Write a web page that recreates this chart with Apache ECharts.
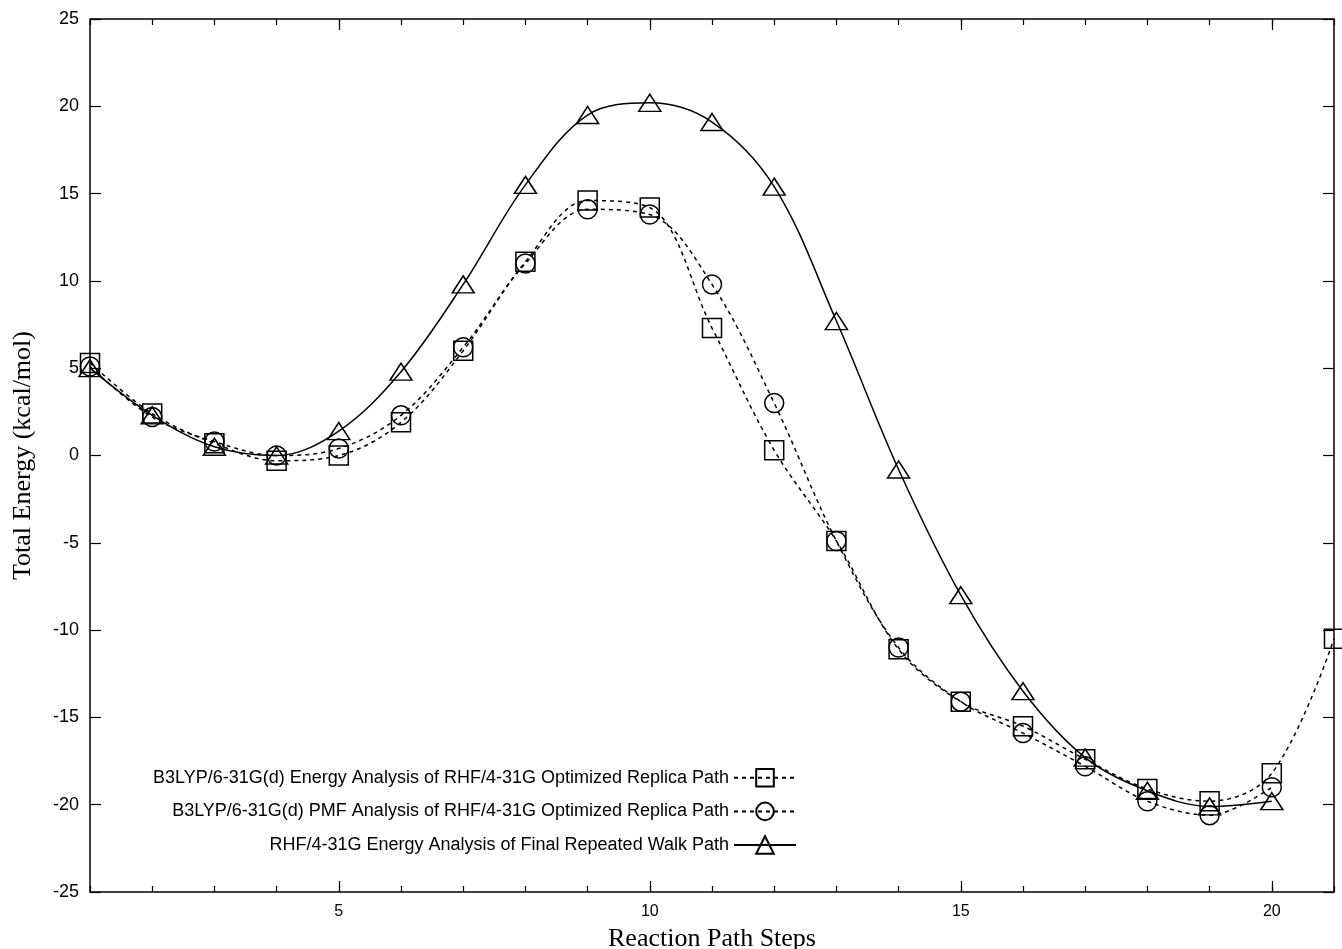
<!DOCTYPE html>
<html><head><meta charset="utf-8">
<script src="https://cdn.jsdelivr.net/npm/echarts@6/dist/echarts.min.js"></script>
<style>html,body{margin:0;padding:0;background:#fff}#c{width:1342px;height:949px}</style>
</head><body><div id="c"></div>
<script>
const steps = [1,2,3,4,5,6,7,8,9,10,11,12,13,14,15,16,17,18,19,20,21];
const energyB3LYP = [5.3,2.4,0.7,-0.3,0.0,1.9,6.0,11.1,14.6,14.2,7.3,0.3,-4.9,-11.1,-14.1,-15.5,-17.4,-19.1,-19.8,-18.2,-10.5];
const pmfB3LYP = [5.1,2.2,0.8,0.0,0.4,2.3,6.2,11.0,14.1,13.8,9.8,3.0,-4.9,-11.0,-14.1,-15.9,-17.8,-19.8,-20.6,-19.0];
const rhfWalk = [5.0,2.3,0.5,0.0,1.4,4.8,9.8,15.5,19.5,20.2,19.1,15.4,7.7,-0.8,-8.0,-13.5,-17.3,-19.2,-20.1,-19.8];
const seriesNames = [
  'B3LYP/6-31G(d) Energy Analysis of RHF/4-31G Optimized Replica Path',
  'B3LYP/6-31G(d) PMF Analysis of RHF/4-31G Optimized Replica Path',
  'RHF/4-31G Energy Analysis of Final Repeated Walk Path'
];
const xMajor = [5,10,15,20];
const xLabelText = ['5','10','15','20'];
const yTicks = [-25,-20,-15,-10,-5,0,5,10,15,20,25];

const pairs = arr => arr.map((v,i)=>[steps[i], v]);
const sans = '"Liberation Sans", Arial, sans-serif';
const serif = '"Liberation Serif", "Times New Roman", serif';
const black = '#000';

function xAx(pos, opts) {
  return Object.assign({
    type:'value', position:pos, min:1, max:21, gridIndex:0,
    axisLine:{show:false, onZero:false}, splitLine:{show:false},
    axisLabel:{show:false}, axisTick:{show:false}
  }, opts);
}
function yAx(pos, opts) {
  return Object.assign({
    type:'value', position:pos, min:-25, max:25, interval:5, gridIndex:0,
    axisLine:{show:false, onZero:false}, splitLine:{show:false},
    axisLabel:{show:false}, axisTick:{show:false}
  }, opts);
}

const chart = echarts.init(document.getElementById('c'), null, {renderer:'canvas'});
const markerStyle = {color:'transparent', borderColor:black, borderWidth:1.5};
chart.setOption({
  animation:false,
  backgroundColor:'#fff',
  grid:{left:90, right:8, top:19, bottom:57, outerBoundsMode:'none', containLabel:false,
        show:true, borderColor:black, borderWidth:1.5, backgroundColor:'transparent'},
  xAxis:[
    xAx('bottom', {
      name:'Reaction Path Steps', nameLocation:'middle', nameGap:34,
      nameTextStyle:{fontFamily:serif, fontSize:26, color:black},
      interval:1,
      axisTick:{show:true, inside:true, length:6, lineStyle:{color:black, width:1.2}},
      axisLabel:{show:true, customValues:xMajor, formatter:v=>xLabelText[xMajor.indexOf(v)] ?? '', fontFamily:sans, fontSize:16, color:black, margin:12}
    }),
    xAx('bottom', {axisTick:{show:true, inside:true, length:11, customValues:xMajor, lineStyle:{color:black, width:1.2}}}),
    xAx('top', {interval:1, axisTick:{show:true, inside:true, length:6, lineStyle:{color:black, width:1.2}}}),
    xAx('top', {axisTick:{show:true, inside:true, length:11, customValues:xMajor, lineStyle:{color:black, width:1.2}}})
  ],
  yAxis:[
    yAx('left', {
      name:'Total Energy (kcal/mol)', nameLocation:'middle', nameGap:54, nameRotate:90,
      nameTextStyle:{fontFamily:serif, fontSize:26, color:black},
      axisTick:{show:true, inside:true, length:11, customValues:yTicks, lineStyle:{color:black, width:1.2}},
      axisLabel:{show:true, customValues:yTicks, fontFamily:sans, fontSize:18, color:black, margin:11}
    }),
    yAx('right', {axisTick:{show:true, inside:true, length:11, customValues:yTicks, lineStyle:{color:black, width:1.2}}})
  ],
  legend:{
    orient:'vertical', right:540, top:763, align:'right',
    itemWidth:62, itemHeight:22, itemGap:14,
    textStyle:{fontFamily:sans, fontSize:18, color:black},
    data:seriesNames
  },
  series:[
    {name:seriesNames[0], type:'line', data:pairs(energyB3LYP), smooth:0.35,
     symbol:'rect', symbolSize:19, itemStyle:markerStyle,
     lineStyle:{color:black, width:1.5, type:[4,4]}, clip:false, z:3},
    {name:seriesNames[1], type:'line', data:pairs(pmfB3LYP), smooth:0.35,
     symbol:'circle', symbolSize:19, itemStyle:markerStyle,
     lineStyle:{color:black, width:1.5, type:[4,4]}, clip:false, z:3},
    {name:seriesNames[2], type:'line', data:pairs(rhfWalk), smooth:0.35,
     symbol:'triangle', symbolSize:[22,17], itemStyle:markerStyle,
     lineStyle:{color:black, width:1.5, type:'solid'}, clip:false, z:3}
  ]
});
</script></body></html>
